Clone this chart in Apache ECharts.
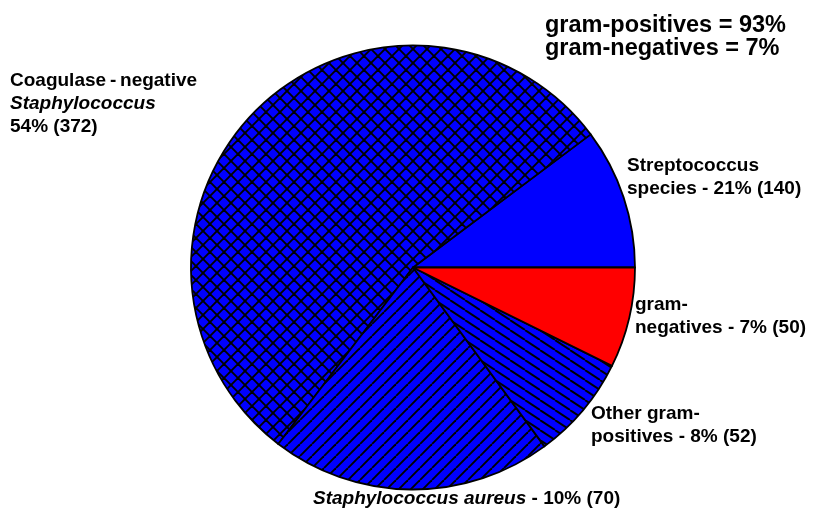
<!DOCTYPE html>
<html>
<head>
<meta charset="utf-8">
<script src="https://cdn.jsdelivr.net/npm/echarts@6/dist/echarts.min.js"></script>
<style>
  html, body { margin: 0; padding: 0; background: #fff; }
  #chart { width: 815px; height: 511px; }
</style>
</head>
<body>
<div id="chart"></div>
<script>
// wedge sizes as drawn in the figure (the solid blue and the striped wedge
// are drawn swapped relative to the counts printed in their labels)
const sliceNames = ['Streptococcus species', 'Coagulase-negative Staphylococcus', 'Staphylococcus aureus', 'Other gram-positives', 'gram-negatives'];
const sliceValues = [70, 372, 140, 52, 50];

// label text
const labelHead = ['Streptococcus\nspecies', 'Coagulase\u2009-\u2009negative\n{i|Staphylococcus}', '{i|Staphylococcus aureus}', 'Other gram-\npositives', 'gram-\nnegatives'];
const labelSep = [' - ', '\n', ' - ', ' - ', ' - '];
const labelPct = ['21%', '54%', '10%', '8%', '7%'];
const labelCount = [140, 372, 70, 52, 50];
const summaryLines = ['gram-positives = 93%', 'gram-negatives = 7%'];

const FONT = "'Liberation Sans', Arial, sans-serif";
const BLUE = '#0000ff';
const LABEL_SIZE = 19;

// label anchor points (left x, middle y)
const labelPos = [[627, 177], [10, 103.5], [313, 498.5], [591, 425.5], [635, 316]];

function tile(w, h, lw, draw) {
  var c = document.createElement('canvas');
  c.width = w;
  c.height = h;
  var ctx = c.getContext('2d');
  ctx.fillStyle = BLUE;
  ctx.fillRect(0, 0, w, h);
  ctx.strokeStyle = '#000';
  ctx.lineWidth = lw;
  draw(ctx, w, h);
  return c;
}
function back(ctx, w, h) { // "\" lines
  for (var k = -1; k <= 1; k++) {
    ctx.beginPath();
    ctx.moveTo(k * w, 0);
    ctx.lineTo(k * w + w, h);
    ctx.stroke();
  }
}
function fwd(ctx, w, h) { // "/" lines
  for (var k = -1; k <= 1; k++) {
    ctx.beginPath();
    ctx.moveTo(k * w, h);
    ctx.lineTo(k * w + w, 0);
    ctx.stroke();
  }
}

const fills = [
  BLUE,
  { image: tile(14, 14, 1.9, function (c, w, h) { back(c, w, h); fwd(c, w, h); }), repeat: 'repeat' },
  { image: tile(12, 12, 1.9, fwd), repeat: 'repeat' },
  { image: tile(15, 10, 1.9, back), repeat: 'repeat' },
  '#ff0000',
];

var chart = echarts.init(document.getElementById('chart'));
chart.setOption({
  animation: false,
  title: {
    text: summaryLines.join('\n'),
    left: 545,
    top: 14,
    padding: 0,
    textStyle: {
      fontFamily: FONT,
      fontSize: 23.5,
      fontWeight: 'bold',
      lineHeight: 23,
      color: '#000',
    },
  },
  series: [
    {
      type: 'pie',
      center: [413, 267.5],
      radius: 222,
      startAngle: 0,
      clockwise: false,
      avoidLabelOverlap: false,
      silent: true,
      emphasis: { disabled: true },
      itemStyle: {
        borderColor: '#000',
        borderWidth: 1.8,
      },
      label: {
        show: true,
        position: 'outside',
        color: '#000',
        fontFamily: FONT,
        fontSize: LABEL_SIZE,
        fontWeight: 'bold',
        lineHeight: 23,
        formatter: function (p) {
          var i = p.dataIndex;
          return labelHead[i] + labelSep[i] + labelPct[i] + ' (' + labelCount[i] + ')';
        },
        rich: {
          i: {
            fontFamily: FONT,
            fontSize: LABEL_SIZE,
            fontWeight: 'bold',
            fontStyle: 'italic',
            lineHeight: 23,
            color: '#000',
          },
        },
      },
      labelLine: { show: false },
      labelLayout: function (params) {
        var p = labelPos[params.dataIndex];
        return { x: p[0], y: p[1], align: 'left', verticalAlign: 'middle' };
      },
      data: sliceValues.map(function (v, i) {
        return { name: sliceNames[i], value: v, itemStyle: { color: fills[i] } };
      }),
    },
  ],
});
</script>
</body>
</html>
